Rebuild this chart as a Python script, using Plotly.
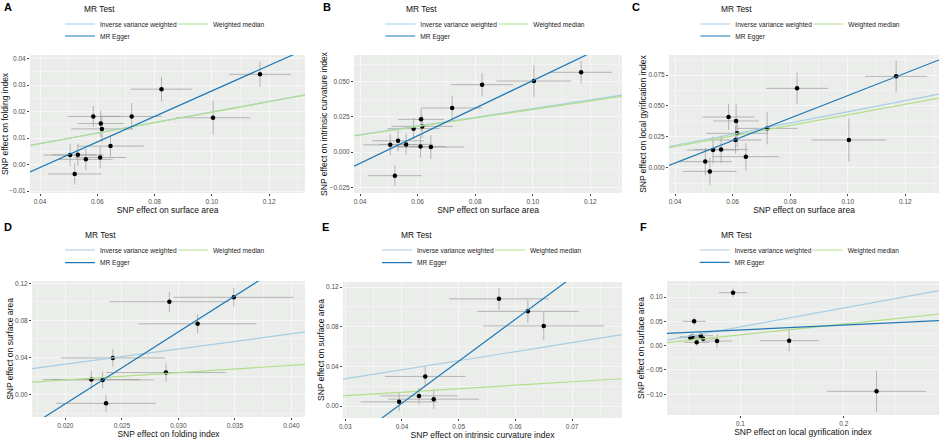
import plotly.graph_objects as go

W, H = 942, 441
FONT = "Liberation Sans, Arial, sans-serif"

# ---------------- data ----------------
# Panels A-C: exposure = surface area (same 13 SNPs)
sa_beta = [0.0505, 0.0532, 0.0560, 0.0521, 0.0610, 0.0586, 0.0612, 0.0616, 0.0646, 0.0720, 0.0824, 0.1004, 0.1168]
sa_se = [0.0093, 0.0090, 0.0093, 0.0093, 0.0090, 0.0090, 0.0080, 0.0107, 0.0116, 0.0105, 0.0107, 0.0130, 0.0108]

folding_beta_A = [0.0036, 0.0037, 0.0020, -0.0035, 0.0027, 0.0182, 0.0155, 0.0135, 0.0070, 0.0182, 0.0285, 0.0177, 0.0341]
folding_se_A = [0.0042, 0.0042, 0.0040, 0.0040, 0.0040, 0.0039, 0.0050, 0.0050, 0.0040, 0.0051, 0.0046, 0.0065, 0.0047]

curv_beta_B = [0.0052, 0.0081, 0.0055, -0.0167, 0.0040, 0.0167, 0.0233, 0.0183, 0.0036, 0.0314, 0.0479, 0.0505, 0.0567]
curv_se_B = [0.0075, 0.0075, 0.0075, 0.0074, 0.0080, 0.0075, 0.0080, 0.0080, 0.0085, 0.0086, 0.0083, 0.0113, 0.0080]

lgi_beta_C = [0.0049, 0.0143, 0.0148, -0.0030, 0.0224, 0.0410, 0.0378, 0.0278, 0.0089, 0.0318, 0.0642, 0.0224, 0.0739]
lgi_se_C = [0.0110, 0.0110, 0.0110, 0.0110, 0.0110, 0.0105, 0.0139, 0.0110, 0.0110, 0.0130, 0.0128, 0.0175, 0.0128]

# Panel D: exposure = folding index
folding_beta_D = [0.0223, 0.0233, 0.0236, 0.0242, 0.0289, 0.0292, 0.0317, 0.0349]
folding_se_D = [0.0043, 0.0045, 0.0044, 0.0046, 0.0053, 0.0053, 0.0052, 0.0053]
sa_beta_D = [0.0162, 0.0159, -0.0094, 0.0396, 0.0238, 0.1002, 0.0764, 0.1049]
sa_se_D = [0.0095, 0.0090, 0.0094, 0.0096, 0.0099, 0.0108, 0.0103, 0.0101]

# Panel E: exposure = intrinsic curvature index
curv_beta_E = [0.0395, 0.0430, 0.0441, 0.0456, 0.0571, 0.0622, 0.0650]
curv_se_E = [0.0068, 0.0068, 0.0071, 0.0080, 0.0088, 0.0090, 0.0107]
sa_beta_E = [0.0043, 0.0103, 0.0299, 0.0070, 0.1081, 0.0955, 0.0808]
sa_se_E = [0.0092, 0.0083, 0.0108, 0.0100, 0.0110, 0.0116, 0.0145]

# Panel F: exposure = local gyrification index
lgi_beta_F = [0.0516, 0.0535, 0.0552, 0.0577, 0.0616, 0.0639, 0.0774, 0.0929, 0.1471, 0.2316]
lgi_se_F = [0.0120, 0.0120, 0.0113, 0.0120, 0.0120, 0.0120, 0.0145, 0.0137, 0.0285, 0.0480]
sa_beta_F = [0.0164, 0.0185, 0.0500, 0.0068, 0.0205, 0.0144, 0.0096, 0.1089, 0.0103, -0.0938]
sa_se_F = [0.0070, 0.0070, 0.0075, 0.0070, 0.0070, 0.0070, 0.0140, 0.0090, 0.0220, 0.0420]

# MR estimates per panel: (intercept, slope)
methods = ["Inverse variance weighted", "Weighted median", "MR Egger"]
method_colors = ["#a6cee3", "#b2df8a", "#1f78b4"]
fit_A = [(0.0, 0.199), (0.0, 0.198), (-0.0203, 0.4815)]
fit_B = [(0.0, 0.309), (0.0, 0.303), (-0.0471, 0.979)]
fit_C = [(0.0, 0.452), (0.0, 0.428), (-0.0326, 0.9095)]
fit_D = [(0.0, 1.64), (0.0, 0.79), (-0.165, 7.757)]
fit_E = [(0.0, 0.915), (0.0, 0.35), (-0.1663, 4.23)]
fit_F = [(0.0, 0.387), (0.0, 0.222), (0.0224, 0.0992)]

panel_letters = ["A", "B", "C", "D", "E", "F"]
x_titles = ["SNP effect on surface area", "SNP effect on surface area", "SNP effect on surface area",
            "SNP effect on folding index", "SNP effect on intrinsic curvature index",
            "SNP effect on local gyrification index"]
y_titles = ["SNP effect on folding index", "SNP effect on intrinsic curvature index",
            "SNP effect on local gyrification index", "SNP effect on surface area",
            "SNP effect on surface area", "SNP effect on surface area"]

panels = [
    dict(x=sa_beta, xe=sa_se, y=folding_beta_A, ye=folding_se_A, fit=fit_A,
         box=(30, 305, 55, 193), xr=(0.0365, 0.1325), yr=(-0.0107, 0.0414),
         xt=(0.04, 0.02, ".2f"), yt=(0.0, 0.01, ".2f"), lab=(7.5, 7), leg=(81.7, 100, 9, 24, 36)),
    dict(x=sa_beta, xe=sa_se, y=curv_beta_B, ye=curv_se_B, fit=fit_B,
         box=(354, 622, 55, 193), xr=(0.0379, 0.1310), yr=(-0.0290, 0.0690),
         xt=(0.04, 0.02, ".2f"), yt=(0.0, 0.025, ".3f"), lab=(327, 7), leg=(403.7, 420.3, 9, 24, 36)),
    dict(x=sa_beta, xe=sa_se, y=lgi_beta_C, ye=lgi_se_C, fit=fit_C,
         box=(669, 939, 55, 193), xr=(0.0379, 0.1317), yr=(-0.0205, 0.0912),
         xt=(0.04, 0.02, ".2f"), yt=(0.0, 0.025, ".3f"), lab=(635.5, 7), leg=(718.7, 735.3, 9, 24, 36)),
    dict(x=folding_beta_D, xe=folding_se_D, y=sa_beta_D, ye=sa_se_D, fit=fit_D,
         box=(32, 305, 281, 417), xr=(0.01705, 0.0412), yr=(-0.0241, 0.1225),
         xt=(0.02, 0.005, ".3f"), yt=(0.0, 0.04, ".2f"), lab=(7.5, 227), leg=(83.3, 100, 235, 250, 262.7)),
    dict(x=curv_beta_E, xe=curv_se_E, y=sa_beta_E, ye=sa_se_E, fit=fit_E,
         box=(343, 622, 282, 418), xr=(0.0296, 0.0788), yr=(-0.0120, 0.1251),
         xt=(0.03, 0.01, ".2f"), yt=(0.0, 0.04, ".2f"), lab=(325.5, 227), leg=(399.3, 417, 235, 250, 262.7)),
    dict(x=lgi_beta_F, xe=lgi_se_F, y=sa_beta_F, ye=sa_se_F, fit=fit_F,
         box=(667, 939, 281, 415), xr=(0.029, 0.292), yr=(-0.1425, 0.1329),
         xt=(0.1, 0.1, ".1f"), yt=(0.0, 0.05, ".2f"), lab=(643.7, 227), leg=(718.7, 734.7, 235, 250, 262.3)),
]

fig = go.Figure()
layout = dict(
    width=W, height=H, margin=dict(l=0, r=0, t=0, b=0),
    paper_bgcolor="white", plot_bgcolor="#EBEDEB",
    font=dict(family=FONT, color="#222"),
    annotations=[],
)

ERR_COLOR = "rgba(150,150,150,0.75)"

for i, p in enumerate(panels):
    suf = "" if i == 0 else str(i + 1)
    xa, ya = "x" + suf, "y" + suf
    leg1 = "legend" if i == 0 else "legend%d" % (2 * i + 1)
    leg2 = "legend%d" % (2 * i + 2)

    fig.add_trace(go.Scatter(
        x=p["x"], y=p["y"], mode="markers", xaxis=xa, yaxis=ya, showlegend=False,
        marker=dict(color="black", size=4.5),
        error_x=dict(type="data", array=p["xe"], color=ERR_COLOR, thickness=0.9, width=0),
        error_y=dict(type="data", array=p["ye"], color=ERR_COLOR, thickness=0.9, width=0),
        hoverinfo="skip"))

    x0, x1 = p["xr"]
    for m, (name, color) in enumerate(zip(methods, method_colors)):
        a, b = p["fit"][m]
        fig.add_trace(go.Scatter(
            x=[x0, x1], y=[a + b * x0, a + b * x1], mode="lines", xaxis=xa, yaxis=ya,
            name=name, line=dict(color=color, width=1.2),
            legend=(leg2 if name == "MR Egger" else leg1), showlegend=True))

    l, r, t, b_ = p["box"]
    xt0, xdt, xfmt = p["xt"]
    yt0, ydt, yfmt = p["yt"]
    axis_common = dict(
        showline=False, zeroline=False, ticks="outside", ticklen=2, tickwidth=0.8, tickcolor="#444",
        tickfont=dict(size=6.5, color="#4D4D4D", family=FONT),
        showgrid=True, gridcolor="#F6F7F6", gridwidth=0.9, automargin=False,
    )
    layout["xaxis" + suf] = dict(
        axis_common, domain=[l / W, r / W], range=list(p["xr"]), anchor=ya,
        tickmode="linear", tick0=xt0, dtick=xdt, tickformat=xfmt,
        minor=dict(tick0=xt0, dtick=xdt / 2, showgrid=True, gridcolor="#F2F3F2", gridwidth=0.5, ticks=""),
        title=dict(text=x_titles[i], font=dict(size=8.5, color="#111", family=FONT), standoff=0))
    layout["yaxis" + suf] = dict(
        axis_common, domain=[1 - b_ / H, 1 - t / H], range=list(p["yr"]), anchor=xa,
        tickmode="linear", tick0=yt0, dtick=ydt, tickformat=yfmt,
        minor=dict(tick0=yt0, dtick=ydt / 2, showgrid=True, gridcolor="#F2F3F2", gridwidth=0.5, ticks=""),
        title=dict(text=y_titles[i], font=dict(size=8.5, color="#111", family=FONT), standoff=0))

    tx, txt_x, ty, row1, row2 = p["leg"]
    leg_common = dict(orientation="h", xanchor="left", yanchor="top", bgcolor="rgba(0,0,0,0)",
                      font=dict(size=6.6, color="#222", family=FONT), itemwidth=30,
                      tracegroupgap=0, itemclick=False, itemdoubleclick=False)
    layout[leg1] = dict(leg_common, x=(txt_x - 40) / W, y=1 - (row1 - 14.5) / H,
                        entrywidth=68, entrywidthmode="pixels")
    layout[leg2] = dict(leg_common, x=(txt_x - 40) / W, y=1 - (row2 - 14.5) / H)

    layout["annotations"].append(dict(
        text="MR Test", x=tx / W, y=1 - ty / H, xref="paper", yref="paper",
        xanchor="left", yanchor="middle", showarrow=False,
        font=dict(size=8.4, color="#111", family=FONT)))
    lx, ly = p["lab"]
    layout["annotations"].append(dict(
        text="<b>%s</b>" % panel_letters[i], x=lx / W, y=1 - ly / H, xref="paper", yref="paper",
        xanchor="center", yanchor="middle", showarrow=False,
        font=dict(size=11, color="#000", family=FONT)))

fig.update_layout(**layout)
fig.write_html("out.html", config={"displayModeBar": False},
               post_script="document.body.style.margin='0';document.body.style.overflow='hidden';")
